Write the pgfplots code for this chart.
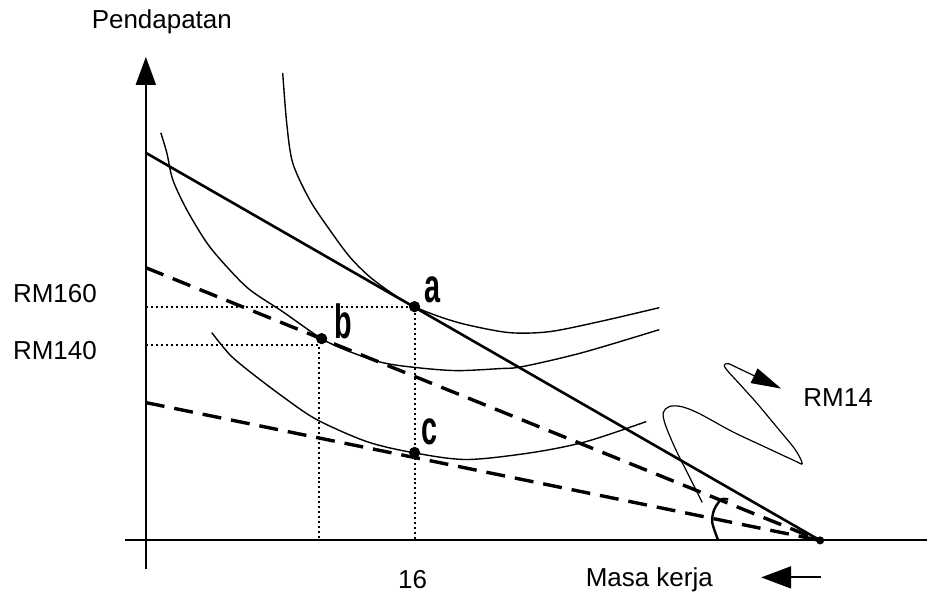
\documentclass[border=0pt]{standalone}
\usepackage{pgfplots}
\pgfplotsset{compat=1.18}
\usepackage{graphicx}
\usepackage{fontspec}
\setmainfont{Liberation Sans}
\usetikzlibrary{arrows.meta}

% letters a, b, c are a heavy condensed face in the original
\newcommand{\ptlabel}[1]{\scalebox{0.6}[1]{\fontsize{24}{24}\selectfont\bfseries #1}}

\tikzset{lbl/.style={font=\fontsize{13}{15}\selectfont, inner sep=0pt}}

\begin{document}
\begin{tikzpicture}
\begin{axis}[
    width=464pt, height=300.5pt, scale only axis,
    xmin=0, xmax=928, ymin=0, ymax=601,
    y dir=reverse,
    hide axis,
    clip=false,
]
% keep the whole frame in the picture
\addplot[draw=none] coordinates {(0,0) (928,601)};

% axes
\addplot[line width=1pt, -{Triangle[length=14pt,width=10pt]}] coordinates {(146,570) (146,57)};
\addplot[line width=1pt] coordinates {(125,541) (928,541)};

% budget lines
\addplot[line width=1.3pt] coordinates {(146,153) (821,541)};
\addplot[line width=1.7pt, dash pattern=on 9.5pt off 5pt] coordinates {(146,268) (821,541)};
\addplot[line width=1.7pt, dash pattern=on 9.5pt off 5pt] coordinates {(146,403) (821,541)};

% dotted guides
\addplot[line width=1pt, dash pattern=on 1pt off 1.5pt] coordinates {(146,307) (415,307) (415,541)};
\addplot[line width=1pt, dash pattern=on 1pt off 1.5pt] coordinates {(146,345) (319,345) (319,541)};

% indifference curves
\addplot[line width=0.7pt, smooth] coordinates {
  (283,73) (287,123) (293,163) (310,200) (330,230) (350,257) (370,277)
  (393,294) (415,307) (440,317) (467,325) (510,333) (550,332) (600,322) (660,308)};
\addplot[line width=0.7pt, smooth] coordinates {
  (161,133) (167,153) (173,180) (187,210) (207,243) (227,267) (250,290)
  (283,312) (322,339) (350,352) (383,363) (417,368) (457,371) (500,369)
  (523,367) (583,353) (660,330)};
\addplot[line width=0.7pt, smooth] coordinates {
  (212,333) (230,355) (250,372) (283,397) (317,420) (367,442) (413,453)
  (467,460) (533,453) (587,442) (647,422)};

% curly arrow
\addplot[line width=0.6pt, smooth, tension=0.55, -{Triangle[length=15pt,width=8pt]}] coordinates {
  (703,503) (690,477) (676,449) (666,425) (664,413) (670,407) (682,407)
  (700,414) (733,432) (767,448) (795,461) (803,464) (796,450) (778,428)
  (758,404) (740,384) (729,372) (725,366) (729,364) (742,370) (782,389)};

% angle mark
\addplot[line width=1.2pt, smooth] coordinates {(719,541) (713,523) (715,510) (722,500) (729,500)};

% points
\addplot[only marks, mark=*, mark size=2.6pt] coordinates {(415,307) (322,339) (415,453)};
\addplot[only marks, mark=*, mark size=1.8pt] coordinates {(821,541)};

% bottom arrow
\addplot[line width=1pt, -{Triangle[length=15pt,width=11pt]}] coordinates {(822,578) (762,578)};

% labels
\node[lbl] at (axis cs:162,22) {Pendapatan};
\node[lbl] at (axis cs:55,294) {RM160};
\node[lbl] at (axis cs:55,351) {RM140};
\node[lbl] at (axis cs:413,580) {16};
\node[lbl] at (axis cs:650,580) {Masa kerja};
\node[lbl] at (axis cs:839,398) {RM14};
\node[inner sep=0pt] at (axis cs:433,290) {\ptlabel{a}};
\node[inner sep=0pt] at (axis cs:344,322) {\ptlabel{b}};
\node[inner sep=0pt] at (axis cs:430,432) {\ptlabel{c}};
\end{axis}
\end{tikzpicture}
\end{document}
